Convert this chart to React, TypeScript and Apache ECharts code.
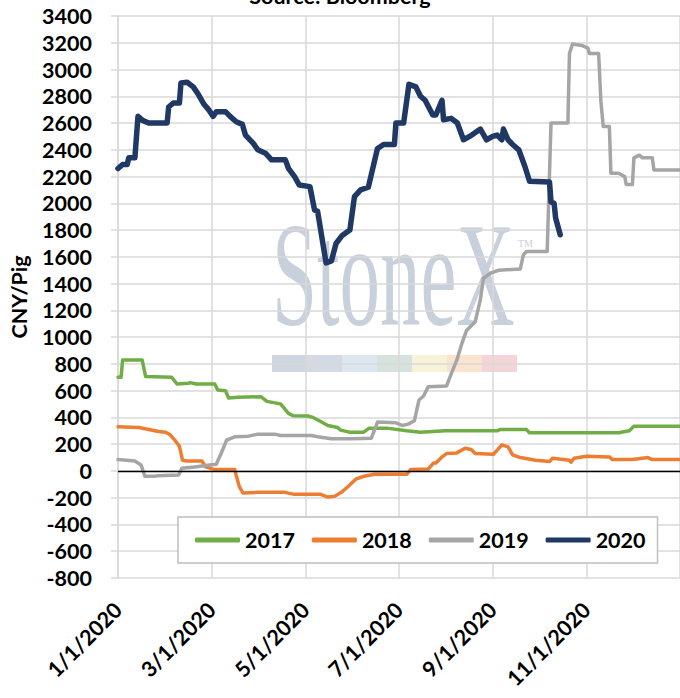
import React, { useEffect, useRef } from 'react';
import * as echarts from 'echarts';

// x = day of 2020 (0 = 1/1/2020), y = CNY/Pig
const xTickLabels = ['1/1/2020', '3/1/2020', '5/1/2020', '7/1/2020', '9/1/2020', '11/1/2020'];
const seriesNames = ['2017', '2018', '2019', '2020'];
const seriesColors = ['#70AD47', '#ED7D31', '#A5A5A5', '#203864'];

const days2017 = [0, 2, 3, 15.7, 18, 35, 38.4, 46, 47, 51, 63, 65, 70, 72, 78, 93, 97, 104, 106, 111, 114, 124, 127, 132, 136.6, 143, 145, 150.6, 160, 163.5, 175, 188, 197, 213, 247, 249, 266, 268, 326, 333, 336, 366];
const vals2017 = [700, 700, 830, 830, 705, 700, 650, 655, 660, 650, 650, 605, 600, 545, 550, 555, 520, 505, 500, 430, 412, 410, 400, 370, 340, 325, 305, 290, 290, 320, 320, 300, 290, 300, 300, 310, 310, 285, 285, 300, 335, 335];

const days2018 = [0, 13.6, 20, 26.5, 31, 34, 37, 40, 42, 45, 54.6, 57, 63, 76, 79, 81.5, 91, 108.5, 115, 132, 136.6, 141, 146, 149.5, 155, 160, 164.6, 167, 188, 190.5, 202, 205.6, 207, 211, 214, 220.7, 226, 230, 232.6, 244.5, 247.7, 250, 254, 257, 262, 272, 281, 283, 294, 295, 297, 305, 320, 322, 335, 341.5, 345, 348, 366];
const vals2018 = [330, 325, 310, 295, 290, 270, 230, 185, 80, 75, 75, 30, 10, 10, -117, -165, -160, -160, -175, -175, -195, -190, -155, -120, -60, -40, -30, -25, -25, 10, 15, 60, 60, 105, 130, 135, 170, 160, 130, 125, 165, 195, 180, 120, 100, 80, 70, 95, 80, 65, 95, 110, 105, 85, 85, 95, 100, 85, 85];

const days2019 = [0, 11, 15, 17.5, 24, 26, 39.5, 41.6, 50, 57, 64, 67.5, 70.7, 76, 85, 91, 102, 106, 126, 130, 139, 152, 165, 169, 181, 185, 189, 193, 196, 199, 202, 214, 217.5, 220.7, 224, 227, 232.6, 236, 238, 243, 248, 262, 264, 266, 279.5, 282, 293, 294, 296, 302, 306, 307, 313, 314.5, 316, 320, 321, 326, 330, 331, 335, 336, 339.5, 341.5, 348, 349, 366];
const vals2019 = [85, 75, 45, -40, -40, -35, -30, 20, 30, 40, 50, 140, 230, 255, 260, 275, 275, 265, 265, 255, 240, 240, 245, 365, 360, 340, 350, 375, 530, 560, 630, 635, 740, 830, 955, 1050, 1115, 1280, 1440, 1480, 1500, 1510, 1615, 1640, 1640, 2600, 2600, 3120, 3190, 3180, 3160, 3120, 3120, 2760, 2575, 2575, 2225, 2225, 2200, 2140, 2140, 2340, 2360, 2340, 2340, 2250, 2250];

const days2020 = [0, 3, 6, 7, 11, 13, 16, 20, 32, 33, 36, 40, 41, 45, 49, 52, 56, 59, 62, 64, 70, 73, 77, 81, 83, 88, 91, 96, 100, 109, 111, 115, 118, 125, 128, 130, 135.5, 139, 142, 146, 151, 154, 158, 163, 169, 173, 180, 181, 186, 189.5, 194, 197, 200, 205, 207, 211, 212, 217, 221, 225, 229, 236, 240, 244, 247, 250, 251, 254, 257, 261, 265, 268, 281, 282, 284, 285, 288];
const vals2020 = [2260, 2290, 2290, 2340, 2340, 2650, 2620, 2600, 2600, 2720, 2750, 2750, 2900, 2905, 2870, 2820, 2740, 2700, 2650, 2685, 2685, 2650, 2610, 2590, 2510, 2450, 2400, 2375, 2325, 2325, 2262, 2200, 2137, 2125, 1950, 1940, 1555, 1570, 1700, 1760, 1800, 2050, 2100, 2120, 2410, 2440, 2440, 2600, 2600, 2890, 2870, 2800, 2770, 2660, 2660, 2770, 2625, 2635, 2600, 2475, 2500, 2555, 2475, 2500, 2510, 2475, 2555, 2475, 2440, 2400, 2275, 2165, 2160, 2010, 2000, 1890, 1765];

const seriesDays = [days2017, days2018, days2019, days2020];
const seriesVals = [vals2017, vals2018, vals2019, vals2020];

const FONT = 'Lato';

export default function App() {
  const ref = useRef<HTMLDivElement>(null);
  useEffect(() => {
    if (!ref.current) return;
    const chart = echarts.init(ref.current, undefined, { renderer: 'svg' });
    const grid = '#d9d9d9';
    const wm = '#c8d0dc';
    const barColors = ['#cfd6e0', '#d3dae4', '#dde7f0', '#d6e2dc', '#f7f3d9', '#f9e4d0', '#f4d4d7'];
    const option: any = {
      animation: false,
      backgroundColor: '#fff',
      textStyle: { fontFamily: FONT },
      grid: { left: 118, right: -4, top: 16, bottom: 120 },
      xAxis: {
        type: 'value',
        min: 0,
        max: 366,
        interval: 61,
        axisLine: { show: false },
        axisTick: { show: false },
        splitLine: { show: true, lineStyle: { color: grid, width: 1.5 } },
        axisLabel: {
          rotate: 45,
          margin: 28,
          fontSize: 21.5,
          fontWeight: 'bold',
          color: '#000',
          fontFamily: FONT,
          showMaxLabel: false,
          formatter: (v: number) => {
            if (v > 360) return '';
            const i = Math.round(v / 61);
            return xTickLabels[i] ?? '';
          },
        },
      },
      yAxis: {
        type: 'value',
        min: -800,
        max: 3400,
        interval: 200,
        name: 'CNY/Pig',
        nameLocation: 'middle',
        nameGap: 88,
        nameRotate: 90,
        nameTextStyle: { fontSize: 21.5, fontWeight: 'bold', color: '#000', fontFamily: FONT },
        axisLine: { show: true, lineStyle: { color: grid, width: 1.5 } },
        axisTick: { show: true, length: 7, lineStyle: { color: grid, width: 1.5 } },
        splitLine: { show: true, lineStyle: { color: grid, width: 1.5 } },
        axisLabel: {
          margin: 26,
          fontSize: 21.5,
          fontWeight: 'bold',
          color: '#000',
          fontFamily: FONT,
          formatter: (v: number) => String(v),
        },
      },
      legend: {
        data: seriesNames,
        left: 178,
        top: 517,
        orient: 'horizontal',
        icon: 'roundRect',
        itemWidth: 45,
        itemHeight: 5,
        itemGap: 17,
        padding: [12, 12, 12, 17],
        borderColor: '#bfbfbf',
        borderWidth: 1.5,
        borderRadius: 0,
        backgroundColor: '#fff',
        textStyle: { fontSize: 21.5, fontWeight: 'bold', color: '#000', fontFamily: FONT },
      },
      graphic: [
        {
          type: 'text',
          x: 340,
          y: -4,
          style: {
            text: 'Source: Bloomberg',
            fontFamily: FONT,
            fontWeight: 'bold',
            fontSize: 21.5,
            fill: '#000',
            textAlign: 'center',
            textVerticalAlign: 'middle',
          },
        },
        {
          type: 'group',
          z: 1,
          children: [
            {
              type: 'text',
              x: 272,
              y: 275,
              scaleX: 0.547,
              style: {
                text: 'StoneX',
                fontFamily: 'Liberation Serif',
                fontSize: 148,
                fill: wm,
                textAlign: 'left',
                textVerticalAlign: 'middle',
              },
            },
            {
              type: 'text',
              x: 518,
              y: 243,
              style: { text: 'TM', fontFamily: 'Liberation Serif', fontSize: 10, fill: wm, textAlign: 'left', textVerticalAlign: 'middle' },
            },
            ...barColors.map((c, i) => ({
              type: 'rect',
              shape: { x: 272 + i * 35, y: 355, width: 35, height: 17 },
              style: { fill: c },
            })),
          ],
        },
      ],
      series: seriesNames.map((name, si) => ({
        name,
        type: 'line',
        data: seriesDays[si].map((d, i) => [d, seriesVals[si][i]]),
        showSymbol: false,
        symbol: 'none',
        color: seriesColors[si],
        lineStyle: { color: seriesColors[si], width: si === 3 ? 5.5 : 3.5, cap: 'round', join: 'round' },
        z: 2 + si,
        markLine:
          si === 0
            ? {
                silent: true,
                symbol: 'none',
                label: { show: false },
                lineStyle: { color: '#000', width: 1.3, type: 'solid' },
                data: [{ yAxis: 0 }],
              }
            : undefined,
      })),
    };
    chart.setOption(option);
    return () => chart.dispose();
  }, []);
  return <div ref={ref} style={{ position: 'absolute', left: 0, top: 0, width: 680, height: 698 }} />;
}
